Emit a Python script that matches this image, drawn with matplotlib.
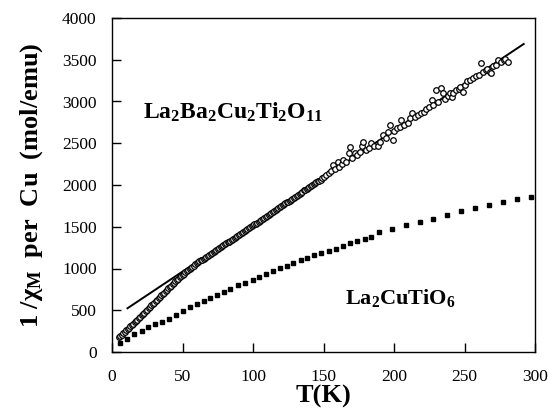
import numpy as np
import matplotlib
matplotlib.use("Agg")
import matplotlib.pyplot as plt

plt.rcParams['font.family'] = ['Liberation Serif', 'DejaVu Serif']
plt.rcParams['mathtext.fontset'] = 'custom'
plt.rcParams['mathtext.rm'] = 'Liberation Serif'
plt.rcParams['mathtext.it'] = 'Liberation Serif:italic'
plt.rcParams['mathtext.bf'] = 'Liberation Serif:bold'

# La2Ba2Cu2Ti2O11, open circles
t_ba = [5, 6, 7, 8, 9, 10, 11, 12, 13, 14, 15, 16, 17, 18, 19, 20, 21, 22, 23, 24,
        25, 26, 27, 28, 29, 30, 31, 32, 33, 34, 35, 36, 37, 38, 39, 40, 41, 42, 43, 44,
        45, 46, 47, 48, 49, 50, 51, 52, 53, 54, 55, 56, 57, 58, 59, 60, 61, 62, 63, 64,
        65, 66, 67, 68, 69, 70, 71, 72, 73, 74, 75, 76, 77, 78, 79, 80, 81, 82, 83, 84,
        85, 86, 87, 88, 89, 90, 91, 92, 93, 94, 95, 96, 97, 98, 99, 100, 101, 102, 103,
        104, 105, 106, 107, 108, 109, 110, 111, 112, 113, 114, 115, 116, 117, 118, 119,
        120, 121, 122, 123, 124, 125, 126, 127, 128, 129, 130, 131, 132, 133, 134, 135,
        136, 137, 138, 139, 140, 141, 142, 143, 144, 145, 146, 147, 148, 149, 150,
        152, 154, 155, 157, 158, 160, 161, 163, 164, 166, 168, 169, 170, 172,
        174, 176, 177, 178, 180, 182, 184, 186, 189, 190, 192, 194, 196, 197, 199, 200,
        202, 204, 205, 207, 210, 211, 213, 215, 217, 219, 221, 223, 225, 227, 228, 230,
        231, 233, 235, 236, 238, 240, 241, 242, 244, 246, 247, 249, 250, 252, 254, 256,
        258, 260, 262, 263, 265, 266, 268, 269, 270, 272, 274, 276, 278, 279, 281]
chi_ba = [176, 190, 205, 222, 240, 258, 274, 290, 306, 322, 338, 355, 371, 388, 404,
          420, 438, 455, 472, 490, 507, 524, 541, 558, 575, 592, 609, 626, 643, 660,
          678, 695, 712, 728, 745, 762, 779, 796, 813, 830, 846, 862, 879, 895, 910,
          925, 940, 955, 970, 985, 998, 1010, 1023, 1035, 1048, 1060, 1072, 1084, 1096,
          1107, 1118, 1130, 1141, 1152, 1164, 1175, 1186, 1198, 1209, 1220, 1232, 1243,
          1255, 1266, 1278, 1290, 1301, 1312, 1323, 1335, 1346, 1357, 1369, 1380, 1391,
          1403, 1414, 1425, 1436, 1447, 1459, 1470, 1481, 1492, 1504, 1515, 1527, 1538,
          1550, 1561, 1572, 1584, 1595, 1606, 1618, 1630, 1641, 1652, 1663, 1675, 1686,
          1697, 1710, 1722, 1733, 1745, 1756, 1768, 1779, 1791, 1802, 1812, 1825, 1838,
          1849, 1860, 1871, 1882, 1894, 1905, 1917, 1938, 1940, 1950, 1962, 1975, 1992,
          1995, 2008, 2020, 2031, 2050, 2053, 2065, 2078, 2090,
          2115, 2140, 2170, 2240, 2190, 2279, 2215, 2250, 2300, 2270, 2387, 2451, 2320,
          2387, 2360, 2390, 2467, 2519, 2420, 2440, 2499, 2470, 2467, 2510, 2599, 2560,
          2639, 2719, 2539, 2650, 2680, 2700, 2778, 2720, 2739, 2799, 2858, 2820, 2840,
          2860, 2880, 2905, 2930, 3018, 2960, 3138, 2990, 3158, 3098, 3030, 3060, 3098,
          3058, 3100, 3138, 3150, 3170, 3118, 3200, 3240, 3260, 3280, 3300, 3320, 3457,
          3350, 3380, 3395, 3357, 3337, 3420, 3440, 3497, 3470, 3497, 3510, 3469]

# Curie-Weiss fit line
t_fit = [11, 292]
chi_fit = [524, 3689]

# La2CuTiO6, filled squares
t_cu = [5.4, 10.6, 15.8, 21, 25.7, 30.5, 35.2, 40.4, 45.1, 50.3, 55.5, 60.2, 65, 69.7,
        74.5, 79.2, 83.9, 89.1, 94.3, 100, 104.4, 109.2, 114.3, 119.1, 123.8, 128.5,
        133.7, 138.5, 143.3, 148.4, 153.6, 158.9, 163.5, 168.8, 173.5, 179.1, 183.8,
        189.1, 198.6, 208.5, 218.4, 227.9, 237.8, 247.7, 257.7, 267.6, 277, 286.9, 297.3]
chi_cu = [104, 159, 212, 255, 296, 332, 363, 391, 443, 487, 539, 575, 611, 643, 679,
          714, 750, 798, 830, 862, 902, 934, 974, 1002, 1034, 1070, 1098, 1130, 1158,
          1186, 1210, 1234, 1266, 1302, 1329, 1353, 1381, 1434, 1469, 1517, 1557, 1596,
          1641, 1692, 1725, 1764, 1796, 1836, 1860]

x_ticks = [0, 50, 100, 150, 200, 250, 300]
y_ticks = [0, 500, 1000, 1500, 2000, 2500, 3000, 3500, 4000]

fig = plt.figure(figsize=(5.49, 4.13), dpi=100)
ax = fig.add_axes([112 / 549, 61 / 413, 423 / 549, 334 / 413])

ax.plot(t_fit, chi_fit, color='black', lw=1.4, zorder=2)
ax.plot(t_ba, chi_ba, 'o', ms=4.0, mfc='white', mec='black', mew=0.9, zorder=3)
ax.plot(t_cu, chi_cu, 's', ms=2.8, color='black', zorder=3)

ax.set_xlim(0, 300)
ax.set_ylim(0, 4000)
ax.set_xticks(x_ticks)
ax.set_yticks(y_ticks)
ax.tick_params(direction='in', length=6.5, width=1, labelsize=12.5, pad=11)
ax.tick_params(axis='x', pad=12)
for s in ax.spines.values():
    s.set_linewidth(1)

ax.set_xlabel('T(K)', fontsize=19, fontweight='bold', labelpad=0)
ax.set_ylabel(r'1 $\mathbf{/\chi_M}$  per  Cu  (mol/emu)', fontsize=19,
              fontweight='bold', labelpad=12)

ax.text(22, 2870, r'$\mathbf{La_2Ba_2Cu_2Ti_2O_{11}}$', fontsize=17, va='center')
ax.text(165, 650, r'$\mathbf{La_2CuTiO_6}$', fontsize=16, va='center')

fig.savefig('out.png', dpi=100)
